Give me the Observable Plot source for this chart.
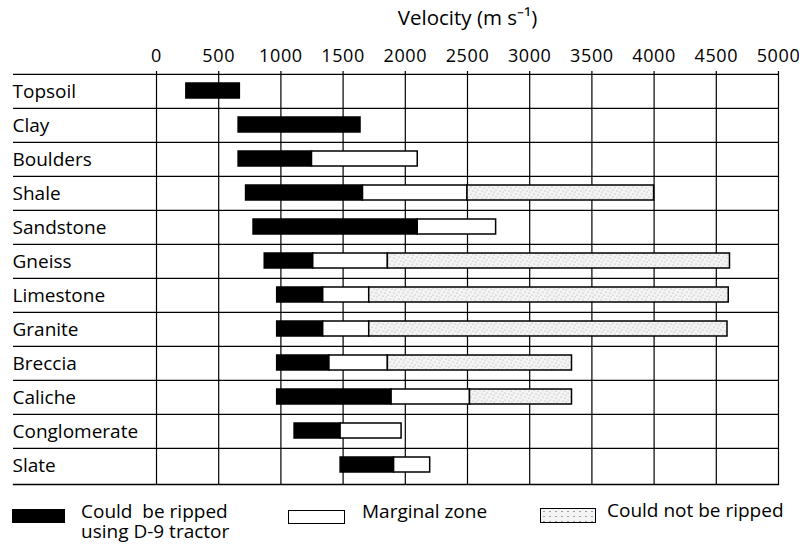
<!DOCTYPE html>
<html><head><meta charset="utf-8">
<script src="https://cdn.jsdelivr.net/npm/d3@7"></script>
<script src="https://cdn.jsdelivr.net/npm/@observablehq/plot@0.6"></script>
<style>
body{margin:0;background:#fff;font-family:"Open Sans",sans-serif;color:#000;}
#wrap{position:relative;width:799px;height:546px;overflow:hidden;}
#chart{position:absolute;left:0;top:0;}
.sw{position:absolute;box-sizing:border-box;}
.lt{position:absolute;font-size:19px;line-height:20px;white-space:pre;}
</style></head><body>
<div id="wrap"><div id="chart"></div><div id="legend"></div></div>
<script>
const categories = ["Topsoil","Clay","Boulders","Shale","Sandstone","Gneiss","Limestone","Granite","Breccia","Caliche","Conglomerate","Slate"];
const rippableFrom    = [240, 660, 660, 720, 780, 870, 970, 970, 970, 970, 1110, 1480];
const marginalFrom    = [null, null, 1250, 1660, 2100, 1260, 1340, 1340, 1390, 1890, 1480, 1910];
const notRippableFrom = [null, null, null, 2500, null, 1860, 1710, 1710, 1860, 2520, null, null];
const upperLimit      = [670, 1640, 2100, 4000, 2730, 4610, 4600, 4590, 3340, 3340, 1970, 2200];
const xTicks = [0,500,1000,1500,2000,2500,3000,3500,4000,4500,5000];
const axisTitle = "Velocity (m s\u207B\u00B9)";
const legendLabels = ["Could  be ripped\nusing D-9 tractor", "Marginal zone", "Could not be ripped"];

const zones = ["rip","marginal","not"];
const segments = [];
categories.forEach((c, i) => {
  const b = [rippableFrom[i], marginalFrom[i], notRippableFrom[i], upperLimit[i]];
  for (let z = 0; z < 3; z++) {
    if (b[z] == null) continue;
    let end = null;
    for (let k = z + 1; k < 4; k++) if (b[k] != null) { end = b[k]; break; }
    segments.push({category: c, zone: zones[z], x1: b[z], x2: end});
  }
});

const W = 799, H = 492, mt = 71, mb = 8, ml = 156, mr = 21;
const rowH = (H - mt - mb) / categories.length;
const ext = -143;
const barOpts = {y: "category", x1: "x1", x2: "x2", stroke: "black", strokeWidth: 1.5, insetTop: 9, insetBottom: 10};

const chart = Plot.plot({
  width: W, height: H,
  marginTop: mt, marginBottom: mb, marginLeft: ml, marginRight: mr,
  style: {fontFamily: "'Open Sans', sans-serif", fontSize: "19px", color: "black", background: "white", overflow: "visible"},
  x: {domain: [0, 5000]},
  y: {domain: categories, padding: 0},
  marks: [
    Plot.gridX(xTicks, {stroke: "black", strokeOpacity: 1, strokeWidth: 1.2}),
    Plot.ruleY(categories, {stroke: "black", strokeWidth: 1.3, insetLeft: ext, dy: -rowH / 2}),
    Plot.frame({anchor: "bottom", insetLeft: ext, stroke: "black", strokeWidth: 1.3}),
    Plot.barX(segments.filter(d => d.zone === "rip"), {...barOpts, fill: "black"}),
    Plot.barX(segments.filter(d => d.zone === "marginal"), {...barOpts, fill: "white"}),
    Plot.barX(segments.filter(d => d.zone === "not"), {...barOpts, fill: "url(#stipple)"}),
    Plot.axisX({anchor: "top", ticks: xTicks, tickSize: 0, tickPadding: 10, tickFormat: d => String(d),
      fontSize: 18, label: axisTitle, labelAnchor: "center", labelArrow: "none", labelOffset: 61}),
    Plot.axisY({tickSize: 0, textAnchor: "start", dx: ext + 8, label: null})
  ]
});

d3.select(chart).selectAll("g[aria-label='x-axis tick label'] text").style("letter-spacing", "0.6px");
d3.select(chart).selectAll("g[aria-label='x-axis label'] text").style("font-size", "20.5px");
const defs = d3.select(chart).insert("defs", ":first-child");
const pat = defs.append("pattern").attr("id", "stipple").attr("width", 9).attr("height", 7).attr("patternUnits", "userSpaceOnUse");
pat.append("rect").attr("width", 9).attr("height", 7).attr("fill", "#f4f4f4");
[[1,1],[5,2],[3,5],[7,6],[8,3]].forEach(([cx, cy]) => pat.append("circle").attr("cx", cx).attr("cy", cy).attr("r", 0.6).attr("fill", "#a0a0a0"));
document.getElementById("chart").appendChild(chart);

const lg = document.getElementById("legend");
const sw = [
  {left: 12, top: 509, w: 53, h: 14, style: "background:#000;"},
  {left: 288, top: 510, w: 57, h: 14, style: "background:#fff;border:1.5px solid #000;"},
  {left: 540, top: 508, w: 56, h: 15, style: "background-color:#f4f4f4;background-image:radial-gradient(#a0a0a0 0.7px, transparent 0.9px);background-size:6px 5px;border:1.5px solid #000;"}
];
const lx = [[81, 501], [362, 501], [607, 500]];
sw.forEach((s, i) => {
  const d = document.createElement("div");
  d.className = "sw";
  d.style.cssText = `left:${s.left}px;top:${s.top}px;width:${s.w}px;height:${s.h}px;` + s.style;
  lg.appendChild(d);
  const t = document.createElement("div");
  t.className = "lt";
  t.style.left = lx[i][0] + "px";
  t.style.top = lx[i][1] + "px";
  t.textContent = legendLabels[i];
  lg.appendChild(t);
});
</script>
</body></html>
